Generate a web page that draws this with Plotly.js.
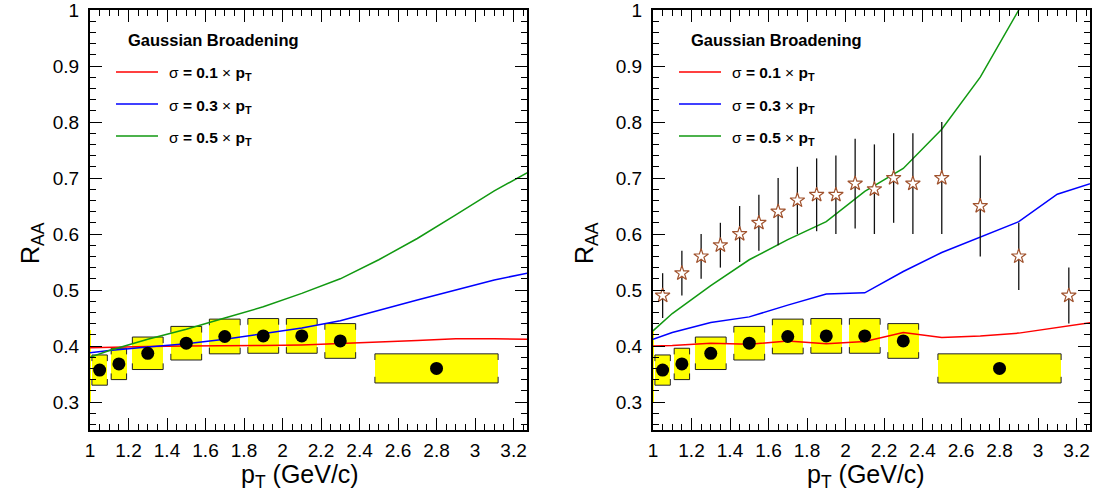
<!DOCTYPE html>
<html>
<head>
<meta charset="utf-8">
<script src="https://cdn.plot.ly/plotly-3.0.1.min.js"></script>
<style>
html,body{margin:0;padding:0;background:#fff;}
#chart{width:1094px;height:495px;}
</style>
</head>
<body>
<div id="chart"></div>
<script>
// ---------------- data ----------------
// measured R_AA (black circles) with systematic boxes
const ptData = [1.05, 1.15, 1.3, 1.5, 1.7, 1.9, 2.1, 2.3, 2.8];
const raaData = [0.357, 0.368, 0.387, 0.405, 0.417, 0.418, 0.418, 0.409, 0.360];
const raaSys = [0.027, 0.028, 0.029, 0.030, 0.031, 0.031, 0.031, 0.031, 0.026];
const ptBinHalfWidth = [0.04, 0.04, 0.08, 0.08, 0.08, 0.08, 0.08, 0.08, 0.32];
// global normalisation box at the left edge
const normPt = [0.99];
const normHalfWidth = [0.015];
const normLow = [0.298];
const normHigh = [0.429];

// stars (right panel)
const starPt = [1.05, 1.15, 1.25, 1.35, 1.45, 1.55, 1.65, 1.75, 1.85, 1.95, 2.05, 2.15, 2.25, 2.35, 2.5, 2.7, 2.9, 3.16];
const starRaa = [0.49, 0.53, 0.56, 0.58, 0.60, 0.62, 0.64, 0.66, 0.67, 0.67, 0.69, 0.68, 0.70, 0.69, 0.70, 0.65, 0.56, 0.49];
const starErr = [0.04, 0.04, 0.04, 0.04, 0.05, 0.05, 0.06, 0.06, 0.065, 0.07, 0.08, 0.08, 0.08, 0.09, 0.10, 0.09, 0.06, 0.05];

// Gaussian broadening curves
const curvePt = [1.0, 1.1, 1.3, 1.5, 1.7, 1.9, 2.1, 2.3, 2.5, 2.7, 2.9, 3.1, 3.3];
const leftSigma01 = [0.397, 0.398, 0.399, 0.400, 0.400, 0.401, 0.402, 0.404, 0.407, 0.410, 0.413, 0.413, 0.412];
const leftSigma03 = [0.388, 0.392, 0.398, 0.404, 0.412, 0.422, 0.432, 0.445, 0.464, 0.482, 0.500, 0.518, 0.532];
const leftSigma05 = [0.380, 0.392, 0.412, 0.430, 0.450, 0.470, 0.494, 0.520, 0.554, 0.592, 0.634, 0.677, 0.715];
const rightSigma01 = [0.400, 0.401, 0.405, 0.403, 0.409, 0.404, 0.408, 0.424, 0.415, 0.418, 0.423, 0.433, 0.443];
const rightSigma03 = [0.412, 0.424, 0.442, 0.452, 0.473, 0.493, 0.495, 0.533, 0.567, 0.595, 0.622, 0.671, 0.693];
const rightSigma05 = [0.427, 0.458, 0.508, 0.554, 0.590, 0.622, 0.676, 0.717, 0.787, 0.880, 1.000, 1.130, 1.280];

// tick labels
const yTickVals = [0.3, 0.4, 0.5, 0.6, 0.7, 0.8, 0.9, 1.0];
const yTickText = ["0.3", "0.4", "0.5", "0.6", "0.7", "0.8", "0.9", "1"];
const xTickVals = [1, 1.2, 1.4, 1.6, 1.8, 2, 2.2, 2.4, 2.6, 2.8, 3, 3.2];
const xTickText = ["1", "1.2", "1.4", "1.6", "1.8", "2", "2.2", "2.4", "2.6", "2.8", "3", "3.2"];

const legendTitle = "Gaussian Broadening";
const legendLabels = ["0.1", "0.3", "0.5"];
const xTitle = "p<sub>T</sub> (GeV/c)";
const yTitle = "R<sub>AA</sub>";

// ---------------- styles ----------------
const W = 1094, H = 495;
const FONT = "Liberation Sans, Arial, Helvetica, sans-serif";
const curveColors = ["#ff0000", "#0000ff", "#119911"];
const px = (x) => x / W;
const py = (y) => 1 - y / H;

function boxTraces(xa, ya) {
  const traces = [];
  traces.push({
    type: "bar", xaxis: xa, yaxis: ya,
    x: normPt, width: normHalfWidth.map(w => 2 * w),
    base: normLow, y: normHigh.map((h, i) => h - normLow[i]),
    marker: {color: "#ffff00", line: {width: 0}}, hoverinfo: "skip"
  });
  traces.push({
    type: "bar", xaxis: xa, yaxis: ya,
    x: ptData, width: ptBinHalfWidth.map(w => 2 * w),
    base: raaData.map((v, i) => v - raaSys[i]),
    y: raaSys.map(s => 2 * s),
    marker: {color: "#ffff00", line: {width: 0}}, hoverinfo: "skip"
  });
  // box outline: top/bottom edges with short corner marks
  const d = 0.011;
  const ox = [], oy = [];
  ptData.forEach((p, i) => {
    const x0 = p - ptBinHalfWidth[i], x1 = p + ptBinHalfWidth[i];
    const y0 = raaData[i] - raaSys[i], y1 = raaData[i] + raaSys[i];
    ox.push(x0, x0, x1, x1, null, x0, x0, x1, x1, null);
    oy.push(y1 - d, y1, y1, y1 - d, null, y0 + d, y0, y0, y0 + d, null);
  });
  traces.push({
    type: "scatter", mode: "lines", xaxis: xa, yaxis: ya,
    x: ox, y: oy, connectgaps: false,
    line: {color: "#222", width: 1}, hoverinfo: "skip"
  });
  return traces;
}
function curveTraces(xa, ya, sets) {
  return sets.map((ys, i) => ({
    type: "scatter", mode: "lines", xaxis: xa, yaxis: ya,
    x: curvePt, y: ys, line: {color: curveColors[i], width: 1.5}
  }));
}
function dotTrace(xa, ya) {
  return {
    type: "scatter", mode: "markers", xaxis: xa, yaxis: ya,
    x: ptData, y: raaData,
    marker: {color: "#000", size: 13, line: {width: 0}}
  };
}

const traces = [];
traces.push(...boxTraces("x", "y"));
traces.push(...curveTraces("x", "y", [leftSigma01, leftSigma03, leftSigma05]));
traces.push(dotTrace("x", "y"));
traces.push(...boxTraces("x2", "y2"));
traces.push(...curveTraces("x2", "y2", [rightSigma01, rightSigma03, rightSigma05]));
traces.push(dotTrace("x2", "y2"));
traces.push({
  type: "scatter", mode: "markers", xaxis: "x2", yaxis: "y2",
  x: starPt, y: starRaa,
  error_y: {type: "data", array: starErr, visible: true, color: "#111", thickness: 1.3, width: 0},
  marker: {symbol: "star", size: 11, color: "#ffffff", line: {color: "#a0522d", width: 1.2}}
});

function xAxis(domain) {
  return {
    domain: domain, range: [1, 3.27],
    tickmode: "array", tickvals: xTickVals, ticktext: xTickText,
    ticks: "inside", ticklen: 12, tickwidth: 1, tickcolor: "#000",
    minor: {dtick: 0.05, tick0: 0, ticks: "inside", ticklen: 6, tickwidth: 1, tickcolor: "#000"},
    showline: true, linewidth: 2, linecolor: "#000", mirror: "allticks",
    showgrid: false, zeroline: false, automargin: false,
    ticklabelstandoff: 2, ticklabeloverflow: "allow",
    tickfont: {family: FONT, size: 19, color: "#000"}
  };
}
function yAxis(domain, anchor) {
  return {
    domain: domain, range: [0.25, 1.0], anchor: anchor,
    tickmode: "array", tickvals: yTickVals, ticktext: yTickText,
    ticks: "inside", ticklen: 12, tickwidth: 1, tickcolor: "#000",
    minor: {dtick: 0.02, tick0: 0, ticks: "inside", ticklen: 6, tickwidth: 1, tickcolor: "#000"},
    showline: true, linewidth: 2, linecolor: "#000", mirror: "allticks",
    showgrid: false, zeroline: false, automargin: false,
    ticklabelstandoff: 5, ticklabeloverflow: "allow",
    tickfont: {family: FONT, size: 19, color: "#000"}
  };
}

const yDom = [py(430), py(10)];
const layout = {
  width: W, height: H,
  margin: {l: 0, r: 0, t: 0, b: 0},
  paper_bgcolor: "#fff", plot_bgcolor: "#fff",
  showlegend: false, barmode: "overlay", bargap: 0,
  xaxis: Object.assign(xAxis([px(90), px(527)]), {anchor: "y"}),
  yaxis: yAxis(yDom, "x"),
  xaxis2: Object.assign(xAxis([px(653), px(1090)]), {anchor: "y2"}),
  yaxis2: yAxis(yDom, "x2"),
  shapes: [], annotations: []
};

// panel decorations (legend + axis titles), offset per panel
[0, 563].forEach((off) => {
  layout.annotations.push({
    xref: "paper", yref: "paper", x: px(126 + off), y: py(40),
    xanchor: "left", yanchor: "middle", showarrow: false,
    text: "<b>" + legendTitle + "</b>", font: {family: FONT, size: 16.5, color: "#000"}
  });
  legendLabels.forEach((lab, i) => {
    const yy = 72 + 32 * i;
    layout.shapes.push({
      type: "line", xref: "paper", yref: "paper",
      x0: px(116 + off), x1: px(158 + off), y0: py(yy), y1: py(yy),
      line: {color: curveColors[i], width: 1.5}
    });
    layout.annotations.push({
      xref: "paper", yref: "paper", x: px(167 + off), y: py(yy + 2),
      xanchor: "left", yanchor: "middle", showarrow: false,
      text: "σ <b>= " + lab + "</b> × <b>p<sub>T</sub></b>",
      font: {family: FONT, size: 15.5, color: "#000"}
    });
  });
  layout.annotations.push({
    xref: "paper", yref: "paper", x: px(300 + off + (off ? 3 : 0)), y: py(476),
    xanchor: "center", yanchor: "middle", showarrow: false,
    text: xTitle, font: {family: FONT, size: 25, color: "#000"}
  });
  layout.annotations.push({
    xref: "paper", yref: "paper", x: px(off ? 586 : 32), y: py(243),
    xanchor: "center", yanchor: "middle", showarrow: false, textangle: -90,
    text: yTitle, font: {family: FONT, size: 25, color: "#000"}
  });
});

Plotly.newPlot("chart", traces, layout, {staticPlot: true, displayModeBar: false});
</script>
</body>
</html>
